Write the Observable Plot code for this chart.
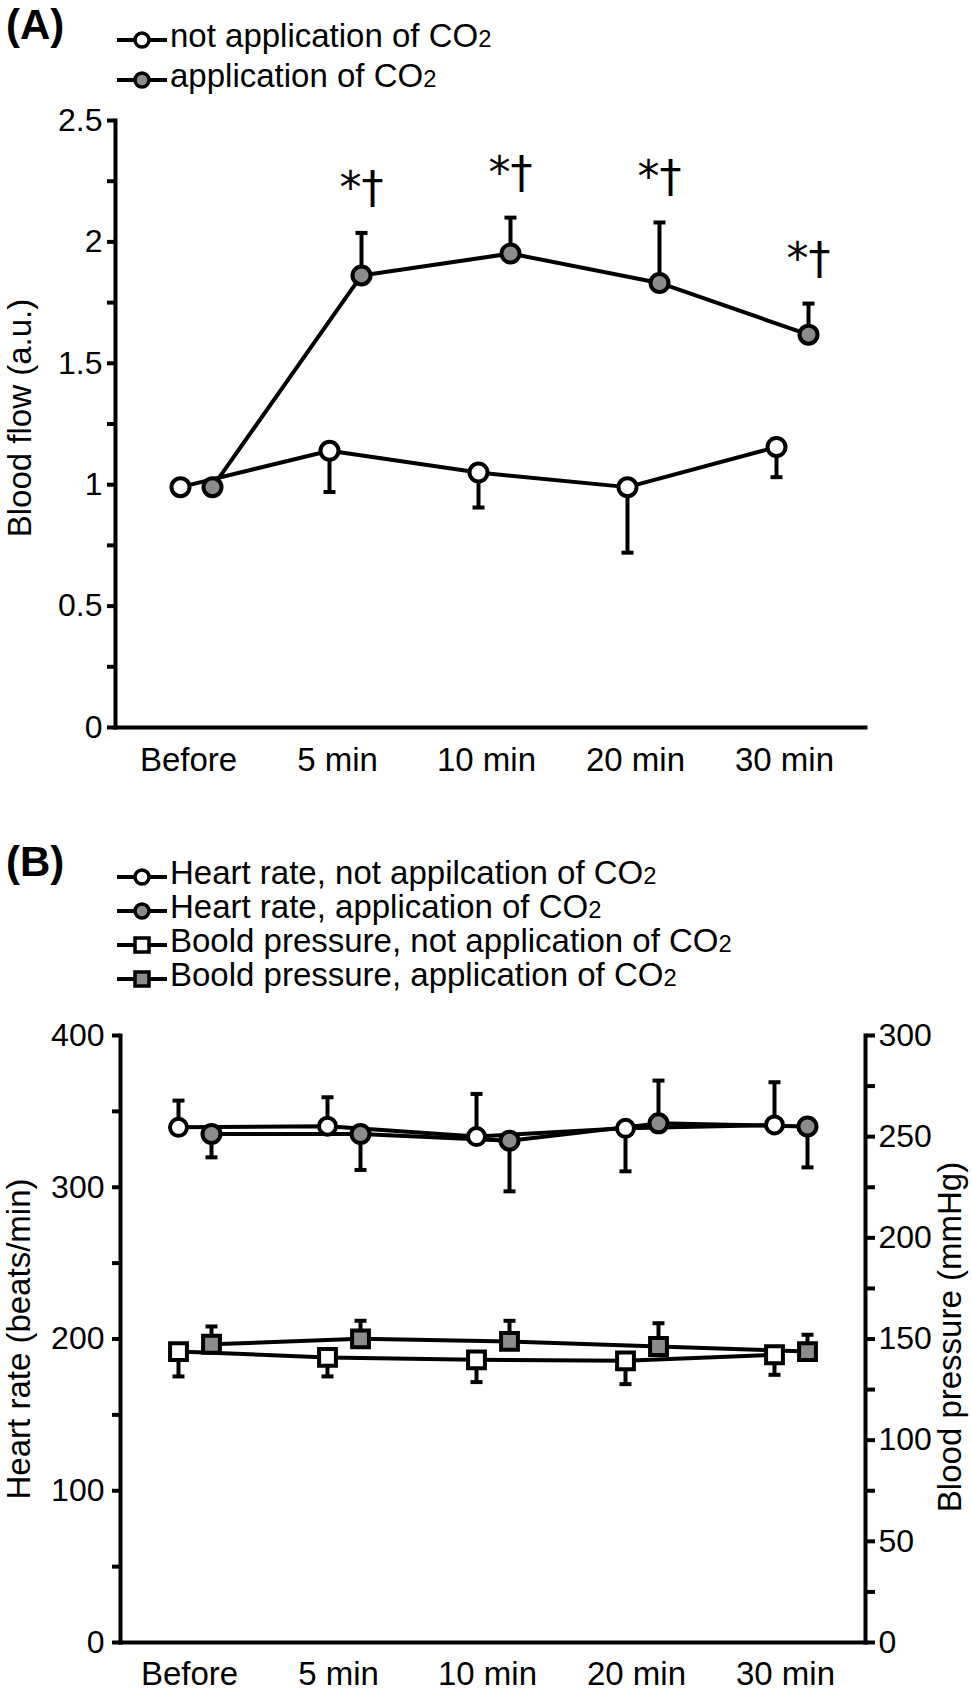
<!DOCTYPE html>
<html>
<head>
<meta charset="utf-8">
<script src="https://cdn.jsdelivr.net/npm/d3@7"></script>
<script src="https://cdn.jsdelivr.net/npm/@observablehq/plot@0.6"></script>
<style>
  html, body { margin: 0; padding: 0; background: #fff; }
  #fig { position: relative; width: 972px; height: 1692px; overflow: hidden;
         font-family: "Liberation Sans", Arial, Helvetica, sans-serif; color: #000; background: #fff; }
  .panel { position: absolute; font-weight: bold; font-size: 42px; line-height: 44px; }
  .leg { position: absolute; display: flex; align-items: center; font-size: 33px; white-space: nowrap; }
  .leg svg { position: relative; top: 3px; margin-right: 2px; }
  .sub { font-size: 0.72em; }
</style>
</head>
<body>
<div id="fig"></div>
<script>
// ---------------- data ----------------
const timeLabels = ["Before", "5 min", "10 min", "20 min", "30 min"];

// Panel A: blood flow (a.u.), mean and error-bar tip
const flowNoCO2     = [0.99, 1.14, 1.05, 0.99, 1.155];
const flowNoCO2Tip  = [0.99, 0.97, 0.906, 0.72, 1.031];
const flowCO2       = [0.99, 1.862, 1.952, 1.831, 1.618];
const flowCO2Tip    = [0.99, 2.037, 2.100, 2.080, 1.746];
const flowSig       = ["", "*\u2020", "*\u2020", "*\u2020", "*\u2020"];
const flowTicks      = [0, 0.5, 1, 1.5, 2, 2.5];
const flowMinorTicks = [0.25, 0.75, 1.25, 1.75, 2.25];

// Panel B: heart rate (beats/min) and blood pressure (mmHg)
const hrNoCO2    = [339.5, 340.2, 333.4, 338.8, 341.1];
const hrNoCO2Tip = [357.1, 359.3, 361.5, 310.5, 369.2];
const hrCO2      = [335.1, 335.1, 330.7, 342.1, 340.0];
const hrCO2Tip   = [319.7, 311.4, 297.3, 370.3, 313.1];
const bpNoCO2    = [143.8, 140.9, 139.7, 139.2, 142.2];
const bpNoCO2Tip = [131.5, 131.5, 128.7, 127.7, 132.3];
const bpCO2      = [147.4, 150.1, 148.8, 146.3, 143.8];
const bpCO2Tip   = [156.2, 159.0, 159.0, 157.8, 152.1];
const hrTicks      = [0, 100, 200, 300, 400];
const hrMinorTicks = [50, 150, 250, 350];
const bpTicks      = [0, 50, 100, 150, 200, 250, 300];
const bpMinorTicks = [25, 75, 125, 175, 225, 275];

const legendA = ["not application of CO2", "application of CO2"];
const legendB = ["Heart rate, not appilcation of CO2", "Heart rate, application of CO2",
                 "Boold pressure, not application of CO2", "Boold pressure, application of CO2"];

// ---------------- helpers ----------------
const FONT = '"Liberation Sans", Arial, Helvetica, sans-serif';
const GREY = "#8c8c8c";
const rows = (vals, tips, extra = []) =>
  timeLabels.map((t, i) => ({time: t, value: vals[i], tip: tips[i], sig: extra[i] || ""}));
const cap = {draw(ctx) { ctx.moveTo(-6, 0); ctx.lineTo(6, 0); }};

function seriesLayers(data, {fill, symbol = "circle", r = 9, dx = 0, map = v => v}) {
  const Y = k => d => map(d[k]);
  return {
    line: Plot.line(data, {x: "time", y: Y("value"), dx, stroke: "#000", strokeWidth: 4, strokeLinejoin: "round"}),
    err: [
      Plot.ruleX(data, {x: "time", y1: Y("value"), y2: Y("tip"), dx, stroke: "#000", strokeWidth: 4}),
      Plot.dot(data, {x: "time", y: Y("tip"), dx, symbol: cap, fill: "none", stroke: "#000", strokeWidth: 4})
    ],
    dot: Plot.dot(data, {x: "time", y: Y("value"), dx, r, symbol, fill, stroke: "#000", strokeWidth: 4})
  };
}

const fig = document.getElementById("fig");

// ---------------- Panel A ----------------
const aNo = seriesLayers(rows(flowNoCO2, flowNoCO2Tip), {fill: "#fff"});
const aCoData = rows(flowCO2, flowCO2Tip, flowSig);
const aCo = seriesLayers(aCoData, {fill: GREY, dx: 32});

const plotA = Plot.plot({
  width: 972, height: 790,
  marginTop: 120, marginBottom: 63, marginLeft: 115, marginRight: 107,
  style: {fontFamily: FONT, fontSize: "32px", background: "transparent", overflow: "visible", color: "#000"},
  x: {type: "point", domain: timeLabels, range: [179, 776], padding: 0},
  y: {domain: [0, 2.5]},
  marks: [
    Plot.axisY(flowTicks, {tickSize: 8, tickPadding: 5, strokeWidth: 4, tickFormat: d => String(d), label: null, fontSize: 32}),
    Plot.axisY(flowMinorTicks, {tickSize: 8, strokeWidth: 4, tickFormat: () => "", label: null}),
    Plot.axisX({tickSize: 0, tickPadding: 20, dx: 8, label: null, fontSize: 33}),
    Plot.frame({anchor: "left", strokeWidth: 4, strokeLinecap: "square"}),
    Plot.frame({anchor: "bottom", strokeWidth: 4, strokeLinecap: "square"}),
    Plot.text(["Blood flow (a.u.)"], {frameAnchor: "left", rotate: -90, textAnchor: "middle", lineAnchor: "middle",
      dx: -95, dy: -6, fontSize: 33, text: d => d}),
    aNo.line, aCo.line,
    ...aNo.err, ...aCo.err,
    aNo.dot, aCo.dot,
    Plot.text(aCoData.filter(d => d.sig), {x: "time", y: "tip", text: "sig", dx: 32, dy: -30, lineAnchor: "bottom",
      fontSize: 44, fontFamily: '"DejaVu Sans", sans-serif'})
  ]
});
plotA.style.position = "absolute"; plotA.style.left = "0px"; plotA.style.top = "0px";
fig.appendChild(plotA);

// ---------------- Panel B ----------------
const bpToHr = d3.scaleLinear([0, 300], [0, 400]);
const bHrNo = seriesLayers(rows(hrNoCO2, hrNoCO2Tip), {fill: "#fff", r: 8.5});
const bHrCo = seriesLayers(rows(hrCO2, hrCO2Tip), {fill: GREY, r: 9, dx: 33});
const bBpNo = seriesLayers(rows(bpNoCO2, bpNoCO2Tip), {fill: "#fff", symbol: "square", r: 9.5, map: bpToHr});
const bBpCo = seriesLayers(rows(bpCO2, bpCO2Tip), {fill: GREY, symbol: "square", r: 9.5, dx: 33, map: bpToHr});
const bAll = [bHrNo, bHrCo, bBpNo, bBpCo];

const plotB = Plot.plot({
  width: 972, height: 702,
  marginTop: 45, marginBottom: 50, marginLeft: 120, marginRight: 107,
  style: {fontFamily: FONT, fontSize: "32px", background: "transparent", overflow: "visible", color: "#000"},
  x: {type: "point", domain: timeLabels, range: [177, 775], padding: 0},
  y: {domain: [0, 400]},
  marks: [
    Plot.axisY(hrTicks, {anchor: "left", tickSize: 8, tickPadding: 8, strokeWidth: 4, tickFormat: d => String(d), label: null, fontSize: 32}),
    Plot.axisY(hrMinorTicks, {anchor: "left", tickSize: 8, strokeWidth: 4, tickFormat: () => "", label: null}),
    Plot.axisY(bpTicks, {anchor: "right", y: bpToHr, tickSize: 9, tickPadding: 4, strokeWidth: 4, tickFormat: d => String(d), label: null, fontSize: 32}),
    Plot.axisY(bpMinorTicks, {anchor: "right", y: bpToHr, tickSize: 9, strokeWidth: 4, tickFormat: () => "", label: null}),
    Plot.axisX({tickSize: 0, tickPadding: 19, dx: 11, label: null, fontSize: 33}),
    Plot.frame({anchor: "left", strokeWidth: 4, strokeLinecap: "square"}),
    Plot.frame({anchor: "right", strokeWidth: 4, strokeLinecap: "square"}),
    Plot.frame({anchor: "bottom", strokeWidth: 4, strokeLinecap: "square"}),
    Plot.text(["Heart rate (beats/min)"], {frameAnchor: "left", rotate: -90, textAnchor: "middle", lineAnchor: "middle",
      dx: -101, dy: 0, fontSize: 33, text: d => d}),
    Plot.text(["Blood pressure (mmHg)"], {frameAnchor: "right", rotate: -90, textAnchor: "middle", lineAnchor: "middle",
      dx: 85, dy: -2, fontSize: 33, text: d => d}),
    ...bAll.map(s => s.line),
    ...bAll.flatMap(s => s.err),
    ...bAll.map(s => s.dot)
  ]
});
plotB.style.position = "absolute"; plotB.style.left = "0px"; plotB.style.top = "990px";
fig.appendChild(plotB);

// ---------------- panel letters & legends ----------------
function addPanel(text, top) {
  const d = document.createElement("div");
  d.className = "panel"; d.textContent = text;
  d.style.left = "6px"; d.style.top = (top - 22) + "px";
  fig.appendChild(d);
}
addPanel("(A)", 25);
addPanel("(B)", 862);

function marker(shape, fill) {
  const m = shape === "circle"
    ? `<circle cx="26" cy="15" r="7" fill="${fill}" stroke="#000" stroke-width="3.5"/>`
    : `<rect x="19" y="8" width="14" height="14" fill="${fill}" stroke="#000" stroke-width="3.5"/>`;
  return `<svg width="52" height="30" viewBox="0 0 52 30"><line x1="1" y1="15" x2="51" y2="15" stroke="#000" stroke-width="4"/>${m}</svg>`;
}
function addLegend(labels, shapes, fills, centers, left) {
  labels.forEach((lab, i) => {
    const d = document.createElement("div");
    d.className = "leg";
    d.style.left = left + "px";
    d.style.top = (centers[i] - 20 - 3) + "px";
    d.style.height = "40px"; d.style.lineHeight = "40px";
    d.innerHTML = marker(shapes[i], fills[i]) + `<span>${lab.replace(/CO2$/, 'CO<span class="sub">2</span>')}</span>`;
    fig.appendChild(d);
  });
}
addLegend(legendA, ["circle", "circle"], ["#fff", GREY], [40, 80], 116);
addLegend(legendB, ["circle", "circle", "square", "square"], ["#fff", GREY, "#fff", GREY], [877, 911, 945, 979], 116);
</script>
</body>
</html>
